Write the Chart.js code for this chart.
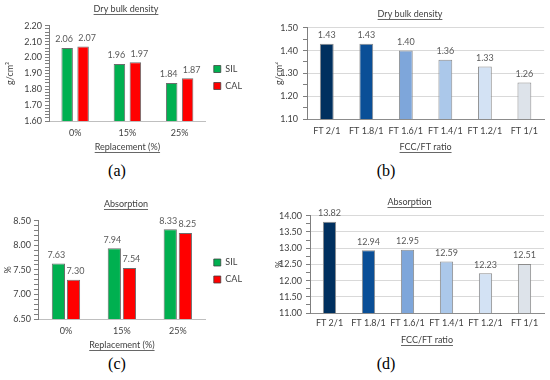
<!DOCTYPE html>
<html>
<head>
<meta charset="utf-8" />
<title>Dry bulk density and absorption</title>
<style>
  body { margin: 0; background: #fff; width: 550px; height: 380px; position: relative; overflow: hidden; }
  .box { position: absolute; }
  .tag { position: absolute; width: 40px; text-align: center; font-family: "Liberation Serif", serif; font-size: 16px; color: #000; }
</style>
</head>
<body>
<div class="box" style="left:0;top:0;width:252px;height:155px"><canvas id="chartA"></canvas></div>
<div class="box" style="left:275px;top:0;width:270px;height:155px"><canvas id="chartB"></canvas></div>
<div class="box" style="left:0;top:190px;width:252px;height:162px"><canvas id="chartC"></canvas></div>
<div class="box" style="left:275px;top:190px;width:270px;height:158px"><canvas id="chartD"></canvas></div>
<div class="tag" style="left:97px;top:162px">(a)</div>
<div class="tag" style="left:366px;top:162px">(b)</div>
<div class="tag" style="left:97px;top:355px">(c)</div>
<div class="tag" style="left:366px;top:355px">(d)</div>

<script src="https://cdn.jsdelivr.net/npm/chart.js@4.4.0/dist/chart.umd.min.js"></script>
<script>
// replacement charts (a), (c)
const replacement = ["0%", "15%", "25%"];
const densitySIL = [2.06, 1.96, 1.84];
const densityCAL = [2.07, 1.97, 1.87];
const absorptionSIL = [7.63, 7.94, 8.33];
const absorptionCAL = [7.30, 7.54, 8.25];

// FCC/FT ratio charts (b), (d)
const ratios = ["FT 2/1", "FT 1.8/1", "FT 1.6/1", "FT 1.4/1", "FT 1.2/1", "FT 1/1"];
const ratioDensity = [1.43, 1.43, 1.40, 1.36, 1.33, 1.26];
const ratioAbsorption = [13.82, 12.94, 12.95, 12.59, 12.23, 12.51];
const blues = ["#00305f", "#0a4f97", "#7ea6da", "#abc8ea", "#d3e2f4", "#dde3ea"];

Chart.defaults.font.family = "Lato, sans-serif";
Chart.defaults.color = "#404040";
Chart.defaults.animation = false;

// value labels above the bars (labelShift nudges them sideways like the original)
const barValues = {
  id: "barValues",
  afterDatasetsDraw(chart) {
    const ctx = chart.ctx;
    ctx.save();
    ctx.font = "9px Lato, sans-serif";
    ctx.fillStyle = "#595959";
    ctx.textAlign = "center";
    ctx.textBaseline = "bottom";
    chart.data.datasets.forEach((ds, i) => {
      const shift = ds.labelShift || 0;
      chart.getDatasetMeta(i).data.forEach((bar, j) => {
        ctx.fillText(ds.data[j].toFixed(2), bar.x + shift, bar.y - 4);
      });
    });
    ctx.restore();
  }
};

// underline chart title and x axis title
const underline = {
  id: "underline",
  afterDraw(chart) {
    const ctx = chart.ctx;
    ctx.save();
    ctx.strokeStyle = "#404040";
    ctx.lineWidth = 0.8;
    const t = chart.titleBlock;
    const tf = Chart.helpers.toFont(t.options.font);
    const tp = Chart.helpers.toPadding(t.options.padding);
    ctx.font = tf.string;
    let w = ctx.measureText(t.options.text).width;
    let cx = (t.left + t.right) / 2;
    let y = Math.round(t.top + tp.top + tf.lineHeight / 2 + tf.size * 0.55) + 0.5;
    ctx.beginPath();
    ctx.moveTo(cx - w / 2, y);
    ctx.lineTo(cx + w / 2, y);
    ctx.stroke();

    const x = chart.scales.x;
    const xf = Chart.helpers.toFont(x.options.title.font);
    const xp = Chart.helpers.toPadding(x.options.title.padding);
    ctx.font = xf.string;
    w = ctx.measureText(x.options.title.text).width;
    cx = (x.left + x.right) / 2;
    y = Math.round(x.bottom - xp.bottom - xf.lineHeight / 2 + xf.size * 0.55) + 0.5;
    ctx.beginPath();
    ctx.moveTo(cx - w / 2, y);
    ctx.lineTo(cx + w / 2, y);
    ctx.stroke();
    ctx.restore();
  }
};

function isMajor(v, major) {
  const r = v / major;
  return Math.abs(r - Math.round(r)) < 1e-6;
}

function makeChart(id, cfg) {
  const withGrid = cfg.grid;
  return new Chart(document.getElementById(id), {
    type: "bar",
    data: { labels: cfg.labels, datasets: cfg.datasets },
    plugins: [barValues, underline],
    options: {
      responsive: true,
      maintainAspectRatio: false,
      layout: { padding: cfg.padding },
      plugins: {
        title: {
          display: true,
          text: cfg.title,
          color: "#404040",
          font: { size: 9, weight: "normal" },
          padding: cfg.titlePad
        },
        legend: cfg.legend ? {
          display: true,
          position: "right",
          labels: { boxWidth: 7, boxHeight: 7, padding: 8, font: { size: 9 }, color: "#404040" }
        } : { display: false },
        tooltip: { enabled: false }
      },
      datasets: { bar: { categoryPercentage: cfg.cp, barPercentage: cfg.bp } },
      scales: {
        x: {
          grid: { display: false, drawTicks: false, tickLength: 0 },
          border: { display: true, color: withGrid ? "#8c8c8c" : "#bfbfbf" },
          ticks: { font: { size: 9 }, color: "#404040", padding: cfg.xTickPad, maxRotation: 0, autoSkip: false },
          title: { display: true, text: cfg.xTitle, color: "#404040", font: { size: 9 }, padding: { top: 0, bottom: cfg.xTitleBottom } },
          afterFit(scale) { scale.height = cfg.xHeight; }
        },
        y: {
          min: cfg.min,
          max: cfg.max,
          border: { display: true, color: "#7f7f7f" },
          grid: {
            drawOnChartArea: withGrid,
            color: (c) => withGrid && isMajor(c.tick.value, cfg.major) ? "#d9d9d9" : "rgba(0,0,0,0)",
            tickColor: "#7f7f7f",
            tickLength: 4
          },
          ticks: {
            stepSize: cfg.step,
            autoSkip: false,
            padding: cfg.yTickPad,
            font: { size: 9 },
            color: "#404040",
            callback: (v) => isMajor(v, cfg.major) ? v.toFixed(2) : ""
          },
          title: { display: true, text: cfg.yTitle, color: "#404040", font: { size: 9, lineHeight: 0.8 }, padding: { top: cfg.yTitlePad, bottom: 0 } },
          afterFit(scale) { scale.width = cfg.yWidth; }
        }
      }
    }
  });
}

const barBorder = "rgba(60,60,60,0.75)";

makeChart("chartA", {
  labels: replacement,
  datasets: [
    { label: "SIL", data: densitySIL, backgroundColor: "#00b050", borderColor: barBorder, borderWidth: 1, labelShift: -3 },
    { label: "CAL", data: densityCAL, backgroundColor: "#ff0000", borderColor: barBorder, borderWidth: 1, labelShift: 4 }
  ],
  title: "Dry bulk density", titlePad: { top: 4, bottom: 11 },
  legend: true, padding: { left: 0, right: 0, top: 0, bottom: 0 },
  cp: 0.61, bp: 0.72,
  min: 1.6, max: 2.2, step: 0.02, major: 0.1, grid: false,
  xTitle: "Replacement (%)", xTickPad: 7, xTitleBottom: 3, xHeight: 34,
  yTitle: "g/cm³", yTitlePad: 6, yTickPad: 3, yWidth: 49
});

makeChart("chartB", {
  labels: ratios,
  datasets: [
    { label: "Dry bulk density", data: ratioDensity, backgroundColor: blues, borderColor: "#8c8c8c", borderWidth: 1 }
  ],
  title: "Dry bulk density", titlePad: { top: 9, bottom: 8 },
  legend: false, padding: { left: 0, right: 0, top: 0, bottom: 0 },
  cp: 1, bp: 0.35,
  min: 1.1, max: 1.5, step: 0.05, major: 0.1, grid: true,
  xTitle: "FCC/FT ratio", xTickPad: 7, xTitleBottom: 3, xHeight: 36,
  yTitle: "g/cm³", yTitlePad: 0, yTickPad: 5, yWidth: 32
});

makeChart("chartC", {
  labels: replacement,
  datasets: [
    { label: "SIL", data: absorptionSIL, backgroundColor: "#00b050", borderColor: barBorder, borderWidth: 1, labelShift: -2 },
    { label: "CAL", data: absorptionCAL, backgroundColor: "#ff0000", borderColor: barBorder, borderWidth: 1, labelShift: 2 }
  ],
  title: "Absorption", titlePad: { top: 9, bottom: 11 },
  legend: true, padding: { left: 0, right: 0, top: 0, bottom: 0 },
  cp: 0.54, bp: 0.875,
  min: 6.5, max: 8.5, step: 0.1, major: 0.5, grid: false,
  xTitle: "Replacement (%)", xTickPad: 7, xTitleBottom: 2, xHeight: 33,
  yTitle: "%", yTitlePad: 4, yTickPad: 3, yWidth: 38
});

makeChart("chartD", {
  labels: ratios,
  datasets: [
    { label: "Absorption", data: ratioAbsorption, backgroundColor: blues, borderColor: "#8c8c8c", borderWidth: 1 }
  ],
  title: "Absorption", titlePad: { top: 7, bottom: 8 },
  legend: false, padding: { left: 0, right: 1, top: 0, bottom: 0 },
  cp: 1, bp: 0.34,
  min: 11, max: 14, step: 0.25, major: 0.5, grid: true,
  xTitle: "FCC/FT ratio", xTickPad: 5, xTitleBottom: 3, xHeight: 35,
  yTitle: "%", yTitlePad: 0, yTickPad: 4, yWidth: 35
});
</script>
</body>
</html>
